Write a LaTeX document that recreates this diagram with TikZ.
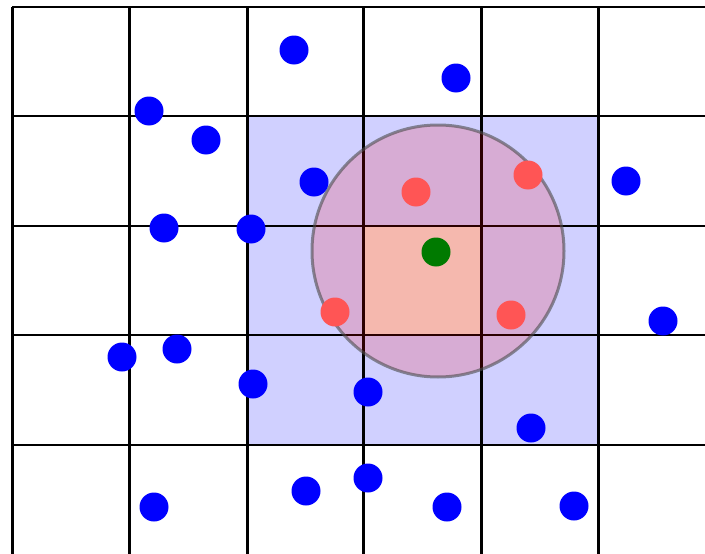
\documentclass[tikz,border=0pt]{standalone}
\usetikzlibrary{positioning}

\definecolor{cellblue}{RGB}{208,208,255}
\definecolor{cellsalmon}{RGB}{243,222,210}
\definecolor{hitred}{RGB}{255,85,85}
\definecolor{querygreen}{RGB}{0,122,0}

\begin{document}
\begin{tikzpicture}[
    x=1pt, y=-1pt,
    dotpt/.style={circle, inner sep=0pt, minimum size=29pt},
    farpt/.style={dotpt, fill=blue},
    hitpt/.style={dotpt, fill=hitred},
    querypt/.style={dotpt, fill=querygreen},
    gridline/.style={line width=#1, black},
    searchzone/.style={fill=red, fill opacity=0.17, draw=black!70, draw opacity=0.6, line width=3pt}
]
    \useasboundingbox (0,0) rectangle (705,554);

    % cells that are searched
    \fill[cellblue] (247,116) rectangle (598,445);
    \fill[cellsalmon] (363,226) rectangle (481,335);

    % grid
    \foreach \gx in {12,129,247,363,481,598}
        \draw[gridline=3pt] (\gx,7) -- (\gx,554);
    \foreach \gy in {7,116,226,335,445}
        \draw[gridline=2.4pt] (12,\gy) -- (705,\gy);

    % search radius
    \draw[searchzone] (438,251) circle[radius=126pt];

    % points outside the radius
    \foreach \px/\py [count=\i] in {294/50, 456/78, 149/111, 206/140, 314/182, 626/181,
        164/228, 251/229, 663/321, 122/357, 177/349, 253/384, 368/392, 531/428,
        154/507, 306/491, 368/478, 447/507, 574/506}
        \node[farpt] (b\i) at (\px,\py) {};

    % points inside the radius
    \foreach \px/\py [count=\i] in {416/192, 528/175, 335/312, 511/315}
        \node[hitpt] (r\i) at (\px,\py) {};

    \node[querypt] (q) at (436,252) {};
\end{tikzpicture}
\end{document}
